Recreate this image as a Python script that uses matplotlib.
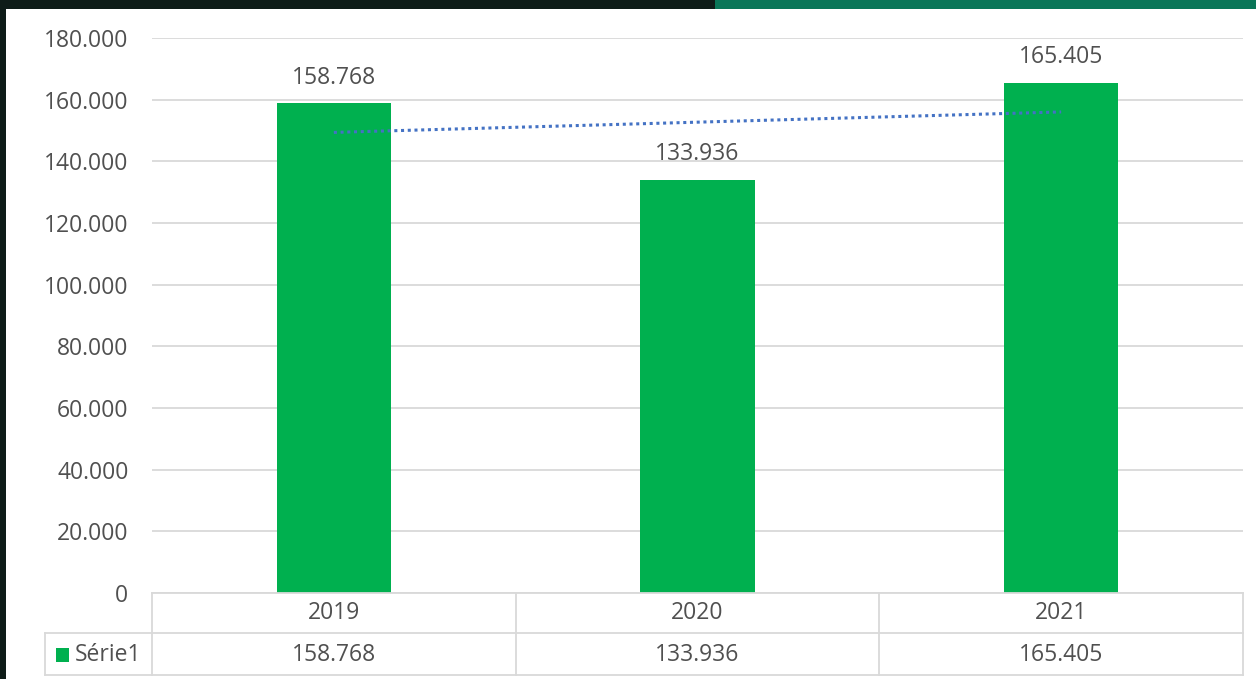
import numpy as np
import matplotlib
matplotlib.use("Agg")
import matplotlib.pyplot as plt
import matplotlib.transforms as mtransforms
from matplotlib.patches import Rectangle

# data
years = ["2019", "2020", "2021"]
values = [158768, 133936, 165405]
series_name = "Série1"
y_ticks = [0, 20000, 40000, 60000, 80000, 100000, 120000, 140000, 160000, 180000]

W, H = 1256, 679
bar_green = "#00b04f"
text_col = "#505050"
grid_col = "#d9d9d9"
fs = 16.5
plt.rcParams['font.family'] = ['Open Sans', 'DejaVu Sans']


def fmt(v):
    return f"{v:,.0f}".replace(",", ".")


fig = plt.figure(figsize=(W / 100, H / 100), dpi=100, facecolor="#0e1c18")

# white panel and top band
fig.patches.append(Rectangle((6 / W, 0), 1 - 6 / W, 1 - 9 / H, transform=fig.transFigure,
                             facecolor="white", edgecolor="none", zorder=-2))
fig.patches.append(Rectangle((715 / W, 1 - 9 / H), 1 - 715 / W, 9 / H, transform=fig.transFigure,
                             facecolor="#0a7658", edgecolor="none", zorder=-2))

left, right, top, bottom = 152, 1243, 38, 593
ax = fig.add_axes([left / W, 1 - bottom / H, (right - left) / W, (bottom - top) / H])
ax.set_facecolor("none")

x = np.arange(len(years))
ax.bar(x, values, width=0.315, color=bar_green, zorder=2)
for xi, v in zip(x, values):
    ax.annotate(fmt(v), (xi, v), xytext=(0, 10), textcoords="offset points",
                ha="center", va="bottom", fontsize=fs, color=text_col)

# linear trendline
k, b = np.polyfit(x, values, 1)
ax.plot(x, k * x + b, linestyle=(0, (1, 1.2)), color="#4472c4", linewidth=2.2, zorder=3)

ax.set_xlim(-0.5, len(years) - 0.5)
ax.set_ylim(0, 180000)
ax.set_yticks(y_ticks)
ax.set_yticklabels([fmt(t) for t in y_ticks], fontsize=fs, color=text_col)
ax.tick_params(axis="y", length=0, pad=17)
ax.set_xticks([])
ax.grid(axis="y", color=grid_col, linewidth=1.3, zorder=0)
for s in ax.spines.values():
    s.set_visible(False)

# data table beneath the axis
tr = mtransforms.blended_transform_factory(ax.transData, ax.transAxes)
row_h = 40 / (bottom - top)
leg_x = -0.5 + (45 - left) / ((right - left) / len(years))
lkw = dict(color=grid_col, linewidth=1.3, transform=tr, clip_on=False)
ax.plot([-0.5, len(years) - 0.5], [0, 0], **lkw)
ax.plot([leg_x, len(years) - 0.5], [-row_h, -row_h], **lkw)
ax.plot([leg_x, len(years) - 0.5], [-2.05 * row_h, -2.05 * row_h], **lkw)
ax.plot([leg_x, leg_x], [-row_h, -2.05 * row_h], **lkw)
for i in range(len(years) + 1):
    ax.plot([i - 0.5, i - 0.5], [0, -2.05 * row_h], **lkw)
for xi, yr, v in zip(x, years, values):
    ax.text(xi, -0.5 * row_h, yr, transform=tr, ha="center", va="center",
            fontsize=fs, color=text_col)
    ax.text(xi, -1.55 * row_h, fmt(v), transform=tr, ha="center", va="center",
            fontsize=fs, color=text_col)
ax.add_patch(Rectangle((leg_x + 0.03, -1.55 * row_h - 0.012), 0.036, 0.024, transform=tr,
                       facecolor=bar_green, edgecolor="none", clip_on=False))
ax.text(leg_x + 0.082, -1.55 * row_h, series_name, transform=tr, ha="left", va="center",
        fontsize=fs, color=text_col)

fig.savefig("out.png", dpi=100, facecolor=fig.get_facecolor())
